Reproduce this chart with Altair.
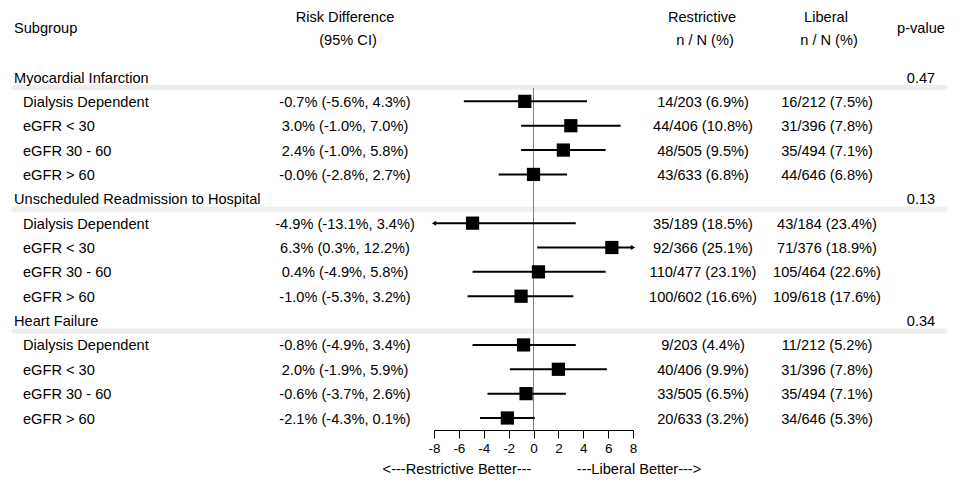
import altair as alt
import pandas as pd

FONT = "Liberation Sans"
FS = 14.6

groups = ["Myocardial Infarction", "Unscheduled Readmission to Hospital", "Heart Failure"]
pvalues = ["0.47", "0.13", "0.34"]
subgroups = ["Dialysis Dependent", "eGFR < 30", "eGFR 30 - 60", "eGFR > 60"]

rd = [-0.7, 3.0, 2.4, -0.0, -4.9, 6.3, 0.4, -1.0, -0.8, 2.0, -0.6, -2.1]
lo = [-5.6, -1.0, -1.0, -2.8, -13.1, 0.3, -4.9, -5.3, -4.9, -1.9, -3.7, -4.3]
hi = [4.3, 7.0, 5.8, 2.7, 3.4, 12.2, 5.8, 3.2, 3.4, 5.9, 2.6, 0.1]
rd_text = ["-0.7% (-5.6%, 4.3%)", "3.0% (-1.0%, 7.0%)", "2.4% (-1.0%, 5.8%)", "-0.0% (-2.8%, 2.7%)",
           "-4.9% (-13.1%, 3.4%)", "6.3% (0.3%, 12.2%)", "0.4% (-4.9%, 5.8%)", "-1.0% (-5.3%, 3.2%)",
           "-0.8% (-4.9%, 3.4%)", "2.0% (-1.9%, 5.9%)", "-0.6% (-3.7%, 2.6%)", "-2.1% (-4.3%, 0.1%)"]
restrictive = ["14/203 (6.9%)", "44/406 (10.8%)", "48/505 (9.5%)", "43/633 (6.8%)",
               "35/189 (18.5%)", "92/366 (25.1%)", "110/477 (23.1%)", "100/602 (16.6%)",
               "9/203 (4.4%)", "40/406 (9.9%)", "33/505 (6.5%)", "20/633 (3.2%)"]
liberal = ["16/212 (7.5%)", "31/396 (7.8%)", "35/494 (7.1%)", "44/646 (6.8%)",
           "43/184 (23.4%)", "71/376 (18.9%)", "105/464 (22.6%)", "109/618 (17.6%)",
           "11/212 (5.2%)", "31/396 (7.8%)", "35/494 (7.1%)", "34/646 (5.3%)"]
axis_ticks = [-8, -6, -4, -2, 0, 2, 4, 6, 8]
XMIN, XMAX = -8, 8

# build tables
grp_rows = []
sub_rows = []
r = 0
k = 0
for gi, g in enumerate(groups):
    grp_rows.append({"row": r, "label": g, "p": pvalues[gi]})
    r += 1
    for s in subgroups:
        sub_rows.append({
            "row": r, "label": s, "rd": rd[k], "lo": lo[k], "hi": hi[k],
            "lo_c": max(lo[k], XMIN), "hi_c": min(hi[k], XMAX),
            "rdtext": rd_text[k], "restr": restrictive[k], "lib": liberal[k],
        })
        r += 1
        k += 1
gdf = pd.DataFrame(grp_rows)
sdf = pd.DataFrame(sub_rows)
left_arr = sdf[sdf["lo"] < XMIN].assign(xa=XMIN)
right_arr = sdf[sdf["hi"] > XMAX].assign(xa=XMAX)

yscale = alt.Scale(domain=[0, 14], range=[69, 410])
xscale = alt.Scale(domain=[XMIN, XMAX], range=[426, 625])
Y = alt.Y("row:Q", scale=yscale, axis=None)

sep = alt.Chart(gdf).transform_calculate(sr="datum.row + 0.43").mark_rule(
    color="#eeeeee", strokeWidth=5, strokeCap="round"
).encode(x=alt.value(6), x2=alt.value(937), y=alt.Y("sr:Q", scale=yscale, axis=None))

zero = alt.Chart(pd.DataFrame({"row": [0]})).transform_calculate(sr="datum.row + 0.45").mark_rule(
    color="#808080", strokeWidth=1
).encode(x=alt.X(datum=0, scale=xscale), y=alt.Y("sr:Q", scale=yscale, axis=None), y2=alt.value(422))

ci = alt.Chart(sdf).mark_rule(color="black", strokeWidth=2).encode(
    x=alt.X("lo_c:Q", scale=xscale, title=None,
            axis=alt.Axis(values=axis_ticks, grid=False, tickSize=8, labelPadding=3,
                          domainColor="black", tickColor="black", labelColor="black",
                          labelFont=FONT, labelFontSize=13.5, labelFlush=False,
                          labelOverlap=False, labelExpr="'' + datum.value")),
    x2="hi_c:Q", y=Y)

arrL = alt.Chart(left_arr).mark_point(shape="triangle-left", filled=True, color="black", size=25, opacity=1).encode(
    x=alt.X("xa:Q", scale=xscale), y=Y)
arrR = alt.Chart(right_arr).mark_point(shape="triangle-right", filled=True, color="black", size=25, opacity=1).encode(
    x=alt.X("xa:Q", scale=xscale), y=Y)

sq = alt.Chart(sdf).mark_square(color="black", size=175, opacity=1).encode(
    x=alt.X("rd:Q", scale=xscale), y=Y)

def txt(df, field, xpos, align):
    return alt.Chart(df).mark_text(font=FONT, fontSize=FS, align=align, baseline="middle",
                                   color="black", dy=1.5).encode(
        x=alt.value(xpos), y=Y, text=f"{field}:N")

g_lab = txt(gdf, "label", 6, "left")
g_p = txt(gdf, "p", 913, "center")
s_lab = txt(sdf, "label", 15, "left")
s_rd = txt(sdf, "rdtext", 337, "center")
s_re = txt(sdf, "restr", 695, "center")
s_li = txt(sdf, "lib", 819, "center")

headers = pd.DataFrame([
    {"t": "Subgroup", "x": 6, "y": 21, "a": "left"},
    {"t": "Risk Difference", "x": 337, "y": 10, "a": "center"},
    {"t": "(95% CI)", "x": 340, "y": 33, "a": "center"},
    {"t": "Restrictive", "x": 694, "y": 10, "a": "center"},
    {"t": "n / N (%)", "x": 697, "y": 33, "a": "center"},
    {"t": "Liberal", "x": 818, "y": 10, "a": "center"},
    {"t": "n / N (%)", "x": 821, "y": 33, "a": "center"},
    {"t": "p-value", "x": 913, "y": 21, "a": "center"},
    {"t": "<---Restrictive Better---", "x": 449, "y": 462, "a": "center"},
    {"t": "---Liberal Better--->", "x": 631, "y": 462, "a": "center"},
])
hdr_layers = []
for _, h in headers.iterrows():
    hdr_layers.append(
        alt.Chart(pd.DataFrame({"t": [h["t"]]})).mark_text(
            font=FONT, fontSize=FS, align=h["a"], baseline="middle", color="black"
        ).encode(x=alt.value(int(h["x"])), y=alt.value(int(h["y"])), text="t:N")
    )

chart = alt.layer(sep, zero, ci, arrL, arrR, sq, g_lab, g_p, s_lab, s_rd, s_re, s_li, *hdr_layers).properties(
    width=944, height=422,
    padding={"left": 0, "top": 0, "right": 0, "bottom": 62},
    autosize=alt.AutoSizeParams(type="none"), background="white"
).configure_view(stroke=None)

chart.save("out.html", embed_options={"renderer": "svg", "actions": False})
